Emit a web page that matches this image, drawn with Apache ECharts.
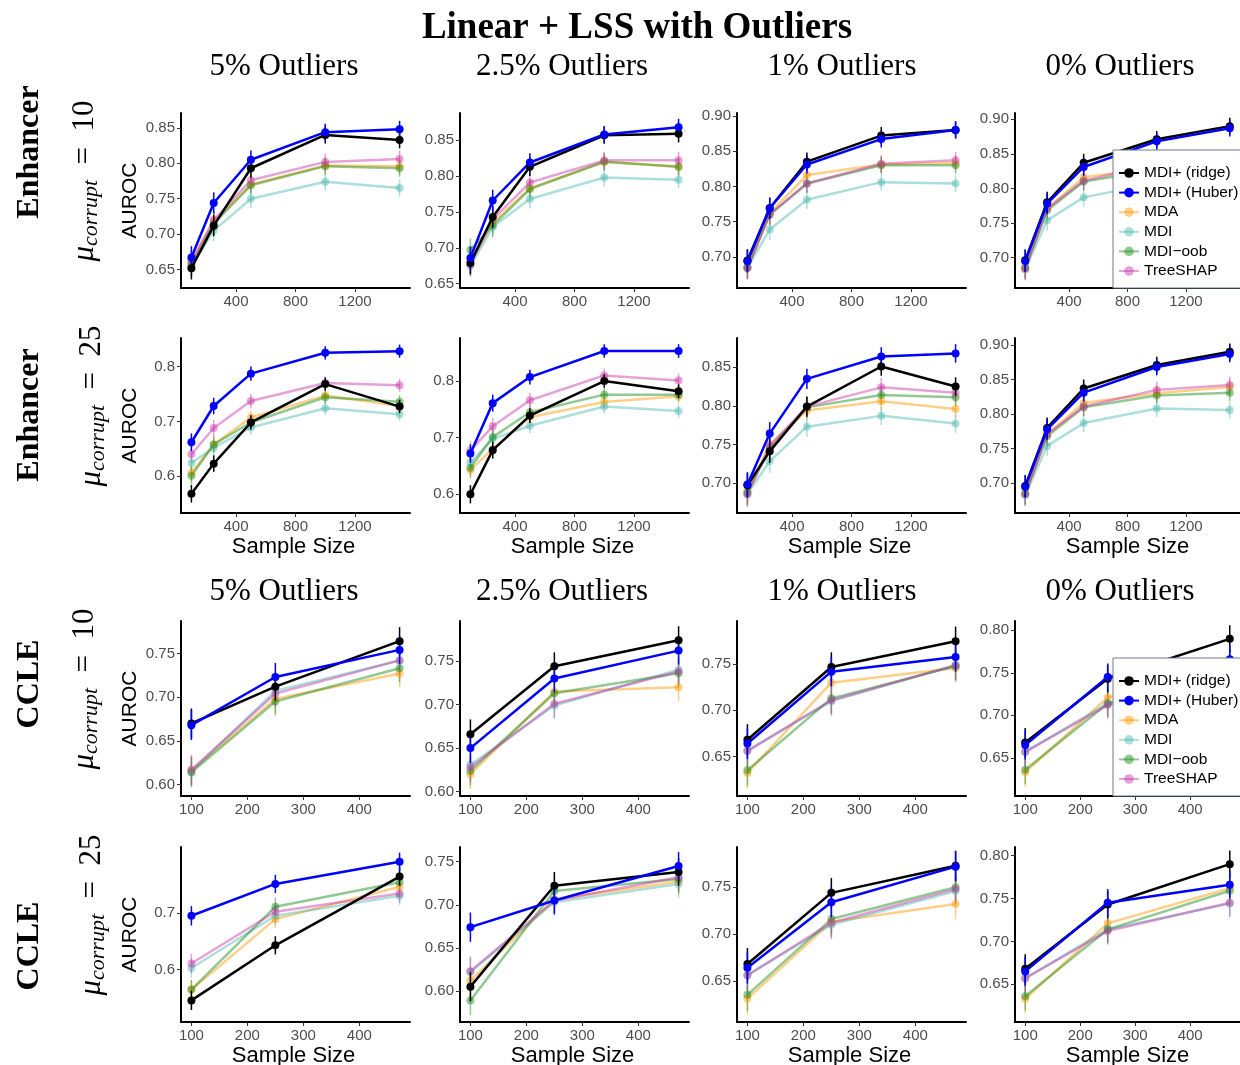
<!DOCTYPE html>
<html><head><meta charset="utf-8">
<script src="https://cdn.jsdelivr.net/npm/echarts@6/dist/echarts.min.js"></script>
<style>html,body{margin:0;padding:0;background:#fff}#chart{width:1240px;height:1065px}</style>
</head><body><div id="chart"></div>
<script>
// ---------------- DATA ----------------
const TITLE = "Linear + LSS with Outliers";
const COL_TITLES = ["5% Outliers", "2.5% Outliers", "1% Outliers", "0% Outliers"];
const ROW_DATASETS = ["Enhancer", "Enhancer", "CCLE", "CCLE"];
const ROW_MU = ["10", "25", "10", "25"];
const METHODS = ["MDI+ (ridge)", "MDI+ (Huber)", "MDA", "MDI", "MDI\u2212oob", "TreeSHAP"];

const X_ENH = [100, 250, 500, 1000, 1500];
const X_CCLE = [100, 250, 472];
const X_ENH_TICKS = [400, 800, 1200];
const X_CCLE_TICKS = [100, 200, 300, 400];

// rows: MDI+ (ridge), MDI+ (Huber), MDA, MDI, MDI-oob, TreeSHAP
const ENH10_5 = [
  [0.652, 0.712, 0.793, 0.840, 0.833],
  [0.667, 0.744, 0.805, 0.844, 0.848],
  [0.660, 0.718, 0.770, 0.797, 0.796],
  [0.655, 0.705, 0.750, 0.774, 0.765],
  [0.657, 0.715, 0.769, 0.796, 0.793],
  [0.662, 0.720, 0.776, 0.802, 0.806]
];
const ENH10_2_5 = [
  [0.679, 0.743, 0.813, 0.857, 0.859],
  [0.686, 0.766, 0.819, 0.858, 0.868],
  [0.678, 0.735, 0.783, 0.820, 0.813],
  [0.675, 0.729, 0.768, 0.798, 0.795],
  [0.697, 0.731, 0.782, 0.820, 0.813],
  [0.677, 0.740, 0.791, 0.822, 0.822]
];
const ENH10_1 = [
  [0.695, 0.769, 0.835, 0.872, 0.880],
  [0.694, 0.769, 0.831, 0.867, 0.880],
  [0.685, 0.762, 0.816, 0.831, 0.833],
  [0.685, 0.739, 0.781, 0.806, 0.804],
  [0.685, 0.760, 0.804, 0.830, 0.830],
  [0.684, 0.760, 0.804, 0.832, 0.837]
];
const ENH_0 = [
  [0.696, 0.780, 0.837, 0.871, 0.890],
  [0.695, 0.778, 0.831, 0.868, 0.887],
  [0.684, 0.771, 0.816, 0.830, 0.839],
  [0.683, 0.754, 0.787, 0.808, 0.806],
  [0.686, 0.768, 0.810, 0.827, 0.831],
  [0.684, 0.771, 0.811, 0.835, 0.842]
];
const ENH25_5 = [
  [0.568, 0.623, 0.698, 0.768, 0.727],
  [0.662, 0.728, 0.787, 0.825, 0.828],
  [0.606, 0.658, 0.707, 0.747, 0.728],
  [0.624, 0.652, 0.689, 0.724, 0.713],
  [0.601, 0.658, 0.698, 0.744, 0.736],
  [0.640, 0.688, 0.737, 0.770, 0.766]
];
const ENH25_2_5 = [
  [0.600, 0.678, 0.739, 0.800, 0.782],
  [0.672, 0.761, 0.807, 0.853, 0.853],
  [0.643, 0.680, 0.736, 0.763, 0.773],
  [0.656, 0.698, 0.721, 0.755, 0.747],
  [0.647, 0.701, 0.745, 0.776, 0.776],
  [0.677, 0.720, 0.766, 0.810, 0.801]
];
const ENH25_1 = [
  [0.697, 0.741, 0.799, 0.851, 0.825],
  [0.698, 0.764, 0.835, 0.864, 0.868],
  [0.688, 0.750, 0.794, 0.806, 0.796],
  [0.686, 0.728, 0.773, 0.787, 0.777],
  [0.688, 0.745, 0.798, 0.814, 0.811],
  [0.685, 0.748, 0.799, 0.824, 0.817]
];
const CCLE10_5 = [
  [0.670, 0.712, 0.764],
  [0.668, 0.723, 0.754],
  [0.616, 0.698, 0.727],
  [0.615, 0.707, 0.742],
  [0.614, 0.695, 0.733],
  [0.617, 0.704, 0.742]
];
const CCLE10_2_5 = [
  [0.666, 0.744, 0.774],
  [0.650, 0.730, 0.762],
  [0.620, 0.715, 0.720],
  [0.631, 0.699, 0.740],
  [0.624, 0.713, 0.736],
  [0.628, 0.701, 0.738]
];
const CCLE10_1 = [
  [0.668, 0.747, 0.775],
  [0.664, 0.742, 0.758],
  [0.632, 0.730, 0.746],
  [0.656, 0.710, 0.749],
  [0.635, 0.713, 0.748],
  [0.656, 0.711, 0.749]
];
const CCLE_0 = [
  [0.668, 0.743, 0.790],
  [0.665, 0.745, 0.766],
  [0.633, 0.721, 0.762],
  [0.657, 0.714, 0.744],
  [0.636, 0.714, 0.759],
  [0.657, 0.712, 0.745]
];
const CCLE25_5 = [
  [0.546, 0.643, 0.764],
  [0.695, 0.751, 0.790],
  [0.565, 0.689, 0.746],
  [0.603, 0.695, 0.730],
  [0.565, 0.711, 0.754],
  [0.611, 0.702, 0.734]
];
const CCLE25_2_5 = [
  [0.605, 0.722, 0.738],
  [0.674, 0.705, 0.745],
  [0.612, 0.706, 0.727],
  [0.622, 0.703, 0.724],
  [0.589, 0.716, 0.730],
  [0.623, 0.705, 0.732]
];
const CCLE25_1 = [
  [0.668, 0.744, 0.773],
  [0.664, 0.734, 0.772],
  [0.631, 0.713, 0.732],
  [0.656, 0.710, 0.746],
  [0.635, 0.716, 0.750],
  [0.656, 0.712, 0.748]
];
// error bar half-widths per sample size
const ENH_ERR = [0.016, 0.015, 0.013, 0.012, 0.012];
const CCLE_ERR = [0.017, 0.016, 0.016];

const PANEL_DATA = [
  [ENH10_5, ENH10_2_5, ENH10_1, ENH_0],
  [ENH25_5, ENH25_2_5, ENH25_1, ENH_0],
  [CCLE10_5, CCLE10_2_5, CCLE10_1, CCLE_0],
  [CCLE25_5, CCLE25_2_5, CCLE25_1, CCLE_0]
];
const Y_TICKS = [
  [["0.65","0.70","0.75","0.80","0.85"], ["0.65","0.70","0.75","0.80","0.85"], ["0.70","0.75","0.80","0.85","0.90"], ["0.70","0.75","0.80","0.85","0.90"]],
  [["0.6","0.7","0.8"], ["0.6","0.7","0.8"], ["0.70","0.75","0.80","0.85"], ["0.70","0.75","0.80","0.85","0.90"]],
  [["0.60","0.65","0.70","0.75"], ["0.60","0.65","0.70","0.75"], ["0.65","0.70","0.75"], ["0.65","0.70","0.75","0.80"]],
  [["0.6","0.7"], ["0.60","0.65","0.70","0.75"], ["0.65","0.70","0.75"], ["0.65","0.70","0.75","0.80"]]
];

// ---------------- LAYOUT / STYLE ----------------
const Y_RANGE = [
  [[0.624,0.871],[0.644,0.888],[0.656,0.904],[0.656,0.909]],
  [[0.533,0.852],[0.567,0.876],[0.661,0.888],[0.657,0.910]],
  [[0.587,0.787],[0.595,0.796],[0.607,0.797],[0.605,0.811]],
  [[0.508,0.816],[0.564,0.767],[0.606,0.793],[0.606,0.810]]
];
const X_RANGE_ENH = [30, 1570];
const X_RANGE_CCLE = [81.4, 490.6];
const COL_LEFT = [181, 460, 737, 1015];
const ROW_TOP = [113, 338, 621, 847];
const PW = 229, PH = 175;
const COLORS = ['#000000', '#0000FF', '#FF9900', '#4FB8B1', '#188C18', '#CA37AA'];
const OPAC = [1, 1, 0.47, 0.47, 0.47, 0.47];
const SANS = 'Liberation Sans';
const SERIF = 'Liberation Serif';

const chart = echarts.init(document.getElementById('chart'), null, {renderer: 'canvas'});
const option = {
  animation: false, backgroundColor: '#ffffff',
  grid: [], xAxis: [], yAxis: [], series: [], graphic: [], legend: []
};

for (let r = 0; r < 4; r++) {
  for (let c = 0; c < 4; c++) {
    const i = r * 4 + c;
    const isEnh = r < 2;
    const xs = isEnh ? X_ENH : X_CCLE;
    const errs = isEnh ? ENH_ERR : CCLE_ERR;
    const xt = isEnh ? X_ENH_TICKS : X_CCLE_TICKS;
    const xr = isEnh ? X_RANGE_ENH : X_RANGE_CCLE;
    const yl = Y_TICKS[r][c];
    const yv = yl.map(Number);
    option.grid.push({left: COL_LEFT[c], top: ROW_TOP[r], width: PW, height: PH});
    option.xAxis.push({
      type: 'value', gridIndex: i, min: xr[0], max: xr[1],
      axisLine: {onZero: false, lineStyle: {color: '#000', width: 2}},
      axisTick: {show: true, length: 4, customValues: xt, lineStyle: {color: '#333', width: 1}},
      axisLabel: {customValues: xt, color: '#4D4D4D', fontSize: 15, fontFamily: SANS, margin: 6,
        formatter: (v) => String(Math.round(v))},
      splitLine: {show: false}
    });
    option.yAxis.push({
      type: 'value', gridIndex: i, min: Y_RANGE[r][c][0], max: Y_RANGE[r][c][1],
      axisLine: {onZero: false, lineStyle: {color: '#000', width: 2}},
      axisTick: {show: true, length: 4, customValues: yv, lineStyle: {color: '#333', width: 1}},
      axisLabel: {customValues: yv, color: '#4D4D4D', fontSize: 15, fontFamily: SANS, margin: 6,
        formatter: (v) => { const k = yv.findIndex(t => Math.abs(t - v) < 1e-9); return k >= 0 ? yl[k] : ''; }},
      splitLine: {show: false}
    });
    const pd = PANEL_DATA[r][c];
    for (let k = 0; k < 6; k++) {
      const col = COLORS[k], op = OPAC[k];
      option.series.push({
        type: 'custom', name: METHODS[k] + ' err', xAxisIndex: i, yAxisIndex: i, silent: true,
        z: k < 2 ? 6 : 3,
        data: xs.map((x, j) => [x, pd[k][j], errs[j]]),
        renderItem: function (params, api) {
          const x = api.value(0), y = api.value(1), e = api.value(2);
          const p1 = api.coord([x, y - e]), p2 = api.coord([x, y + e]);
          return {type: 'line', shape: {x1: p1[0], y1: p1[1], x2: p2[0], y2: p2[1]},
            style: {stroke: col, lineWidth: 1.5, opacity: op}};
        }
      });
      option.series.push({
        type: 'line', name: METHODS[k], xAxisIndex: i, yAxisIndex: i,
        data: xs.map((x, j) => [x, pd[k][j]]),
        symbol: 'circle', symbolSize: 8, showSymbol: true,
        lineStyle: {color: col, width: 2.5, opacity: op},
        itemStyle: {color: col, opacity: op},
        emphasis: {disabled: true}, z: k < 2 ? 6 : 3
      });
    }
  }
}

// titles and labels
const colTitleX = [284, 562, 842, 1120];
option.graphic.push({type: 'text', x: 637, y: 28, style: {text: TITLE, font: 'bold 37px "' + SERIF + '"', fill: '#000', align: 'center', verticalAlign: 'middle'}});
[67, 592].forEach(function (yy) {
  COL_TITLES.forEach(function (t, c) {
    option.graphic.push({type: 'text', x: colTitleX[c], y: yy, style: {text: t, font: '31px "' + SERIF + '"', fill: '#000', align: 'center', verticalAlign: 'middle'}});
  });
});
const rowLabelY = [152, 415, 684, 946];
const muX = [85, 92, 85, 92];
const muY = [181, 406, 689, 915];
for (let r = 0; r < 4; r++) {
  option.graphic.push({type: 'text', x: 30, y: rowLabelY[r], rotation: Math.PI / 2,
    style: {text: ROW_DATASETS[r], font: 'bold 32px "' + SERIF + '"', fill: '#000', align: 'center', verticalAlign: 'middle'}});
  option.graphic.push({type: 'text', x: muX[r], y: muY[r], rotation: Math.PI / 2,
    style: {text: '{m|\u03bc}{s|corrupt}{n|  =  ' + ROW_MU[r] + '}', align: 'center', verticalAlign: 'middle', fill: '#000',
      rich: {
        m: {fontFamily: SERIF, fontStyle: 'italic', fontSize: 31, lineHeight: 34, verticalAlign: 'middle'},
        s: {fontFamily: SERIF, fontStyle: 'italic', fontSize: 22, lineHeight: 16, verticalAlign: 'bottom'},
        n: {fontFamily: SERIF, fontSize: 31, lineHeight: 34, verticalAlign: 'middle'}
      }}});
  option.graphic.push({type: 'text', x: 130, y: ROW_TOP[r] + PH / 2, rotation: Math.PI / 2,
    style: {text: 'AUROC', font: '21px "' + SANS + '"', fill: '#000', align: 'center', verticalAlign: 'middle'}});
}
[1, 3].forEach(function (r) {
  for (let c = 0; c < 4; c++) {
    option.graphic.push({type: 'text', x: COL_LEFT[c] + PW / 2 - 2, y: ROW_TOP[r] + PH + 34,
      style: {text: 'Sample Size', font: '22px "' + SANS + '"', fill: '#000', align: 'center', verticalAlign: 'middle'}});
  }
});

// legends
[150, 658].forEach(function (tp) {
  option.legend.push({
    left: 1113, top: tp, orient: 'vertical', data: METHODS, z: 20,
    itemWidth: 20, itemHeight: 12, itemGap: 3.6, padding: [15, 30, 9, 5],
    backgroundColor: '#ffffff', borderColor: '#6B7A8F', borderWidth: 1,
    textStyle: {fontSize: 15.5, fontFamily: SANS, color: '#000'},
    selectedMode: false
  });
});

chart.setOption(option);
</script>
</body></html>
